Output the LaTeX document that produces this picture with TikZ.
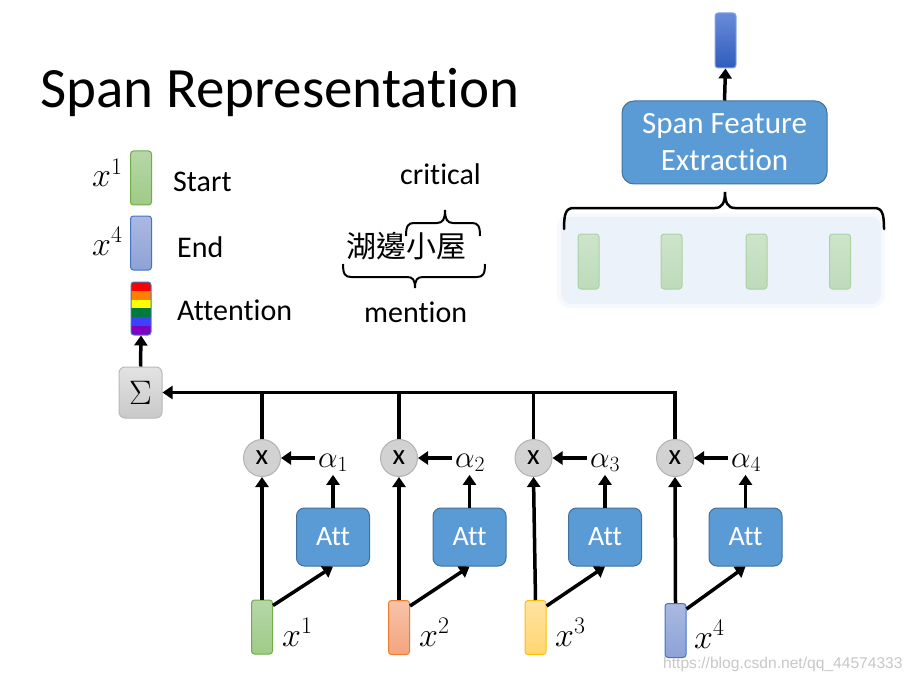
\RequirePackage{fix-cm}
\documentclass[tikz,border=0pt]{standalone}
\usepackage{fontspec}
\setmainfont{Carlito}[Ligatures=NoCommon]
\newfontfamily\cjkfont{Noto Sans CJK TC}
\newfontfamily\wmfont{Liberation Sans}
\usetikzlibrary{arrows.meta,calc}
\definecolor{attblue}{HTML}{5B9BD5}
\definecolor{attborder}{HTML}{41719C}
\definecolor{grnT}{HTML}{B6D7A8}
\definecolor{grnB}{HTML}{9FCB86}
\definecolor{grnD}{HTML}{70AD47}
\definecolor{orgT}{HTML}{F7C3AA}
\definecolor{orgB}{HTML}{F4A47C}
\definecolor{orgD}{HTML}{ED7D31}
\definecolor{yelT}{HTML}{FFE3A3}
\definecolor{yelB}{HTML}{FFD670}
\definecolor{yelD}{HTML}{FFC000}
\definecolor{bluT}{HTML}{AAB9E1}
\definecolor{bluB}{HTML}{8EA2D6}
\definecolor{bluD}{HTML}{4472C4}
\definecolor{outT}{HTML}{6A8BD8}
\definecolor{outB}{HTML}{2F5CBD}
\definecolor{spT}{HTML}{CDE4CB}
\definecolor{spB}{HTML}{BEDBBA}
\definecolor{spD}{HTML}{A9D3A0}
\definecolor{bgin}{HTML}{ECF2FA}
\definecolor{bgout}{HTML}{F6F9FD}
\definecolor{wmgray}{HTML}{C8C8C8}
\definecolor{rbR}{HTML}{FF0000}
\definecolor{rbO}{HTML}{FF7F00}
\definecolor{rbY}{HTML}{FFFF00}
\definecolor{rbG}{HTML}{00793D}
\definecolor{rbB}{HTML}{3F3FFF}
\definecolor{rbP}{HTML}{8000C0}
\begin{document}
\begin{tikzpicture}[x=1pt,y=-1pt,
  txt/.style={inner sep=0pt, font=\fontsize{30}{36}\selectfont},
  mathlab/.style={inner sep=0pt, font=\fontsize{34}{40}\selectfont},
  alab/.style={inner sep=3pt, font=\fontsize{31}{37}\selectfont},
  arr/.style={line width=3.5pt, -{Triangle[length=10pt,width=13pt]}},
  ln/.style={line width=3.5pt},
  attbox/.style={draw=attborder, line width=1pt, fill=attblue, rounded corners=8pt,
    minimum width=73pt, minimum height=58pt, inner sep=0pt, text=white,
    font=\fontsize{28}{34}\selectfont},
  mult/.style={circle, draw=gray!60, fill=gray!35, line width=1pt, minimum size=37pt,
    inner sep=0pt, font=\fontsize{29}{34}\selectfont},
  vec/.style={rounded corners=3pt, minimum width=21pt, minimum height=54pt,
    inner sep=0pt, line width=1pt},
  brace/.style={line width=2.5pt, line cap=round}
]
\useasboundingbox (0,0) rectangle (915,679);
\fill[white] (0,0) rectangle (915,679);

% title
\node[inner sep=0pt, anchor=base west, font=\fontsize{57}{64}\selectfont] (title) at (40,108) {Span Representation};

% legend
\node[vec, draw=grnD, top color=grnT, bottom color=grnB, minimum height=54pt] (lg1) at (141,178) {};
\node[vec, draw=bluD, top color=bluT, bottom color=bluB] (lg4) at (141,243) {};
\node[mathlab, anchor=base west] (lgx1) at (92,187) {$x^1$};
\node[mathlab, anchor=base west] (lgx4) at (92,255) {$x^4$};
\node[txt, anchor=base west] (start) at (173,192) {Start};
\node[txt, anchor=base west] (end) at (177,257) {End};
\node[txt, anchor=base west] (attn) at (177,320) {Attention};

% rainbow bar
\begin{scope}
\clip[rounded corners=3pt] (131,282) rectangle (151,335);
\fill[rbR] (131,282) rectangle (151,291);
\fill[rbO] (131,291) rectangle (151,300);
\fill[rbY] (131,300) rectangle (151,308);
\fill[rbG] (131,308) rectangle (151,317);
\fill[rbB] (131,317) rectangle (151,326);
\fill[rbP] (131,326) rectangle (151,335);
\end{scope}
\node[draw=bluD, line width=1pt, rounded corners=3pt, minimum width=20pt, minimum height=53pt, inner sep=0pt] (attbar) at (141,308.5) {};

% sigma
\node[draw=gray!55, line width=1pt, top color=gray!22, bottom color=gray!42, rounded corners=6pt,
  minimum width=43pt, minimum height=51pt, inner sep=0pt, font=\fontsize{34}{40}\selectfont] (sigma) at (140.5,392.5) {$\Sigma$};
\draw[arr] (sigma.north) -- (attbar.south);

% critical / mention
\node[txt, anchor=base west] (crit) at (400,185) {critical};
\node[inner sep=0pt, font=\cjkfont\fontsize{30}{36}\selectfont] (zh) at (406,246) {湖邊小屋};
\node[txt, anchor=base west] (mention) at (364,322) {mention};
\draw[line width=2pt] (406,236) .. controls (406,226) and (408,223) .. (414,223) -- (437,223)
  .. controls (443,223) and (445,219) .. (445,210) .. controls (445,219) and (447,223) .. (453,223)
  -- (472,223) .. controls (478,223) and (480,226) .. (480,236);
\draw[line width=2pt] (343,264) .. controls (343,274) and (345,277) .. (351,277) -- (407,277)
  .. controls (413,277) and (415,280) .. (415,288) .. controls (415,280) and (417,277) .. (423,277)
  -- (477,277) .. controls (483,277) and (485,274) .. (485,264);

% top right
\fill[bgout, rounded corners=14pt] (557,213) rectangle (885,308);
\fill[bgin, rounded corners=10pt] (561,217) rectangle (881,304);
\node[vec, draw=spD, top color=spT, bottom color=spB, minimum height=55pt] (s1) at (588.5,261.5) {};
\node[vec, draw=spD, top color=spT, bottom color=spB, minimum height=55pt] (s2) at (671.5,261.5) {};
\node[vec, draw=spD, top color=spT, bottom color=spB, minimum height=55pt] (s3) at (756.5,261.5) {};
\node[vec, draw=spD, top color=spT, bottom color=spB, minimum height=55pt] (s4) at (840,261.5) {};
\draw[brace] (564,229) .. controls (564,213) and (566,208) .. (574,208) -- (715,208)
  .. controls (722,208) and (725,203) .. (725,192) .. controls (725,203) and (728,208) .. (735,208)
  -- (874,208) .. controls (882,208) and (884,213) .. (884,229);
\node[attbox, minimum width=205pt, minimum height=83pt, rounded corners=12pt, align=center,
  font=\fontsize{31}{37}\selectfont] (sfe) at (724.5,142.5) {Span Feature\\Extraction};
\node[vec, draw=outT!80!white, top color=outT, bottom color=outB, minimum height=55pt] (outvec) at (725.5,40.5) {};
\draw[arr] (sfe.north) -- (outvec.south);

% columns
\node[vec, draw=grnD, top color=grnT, bottom color=grnB] (r1) at (262,627) {};
\node[vec, draw=orgD, top color=orgT, bottom color=orgB] (r2) at (399,627.5) {};
\node[vec, draw=yelD, top color=yelT, bottom color=yelB] (r3) at (535.5,627.5) {};
\node[vec, draw=bluD, top color=bluT, bottom color=bluB] (r4) at (675.5,630.5) {};

\node[mathlab, anchor=base west] (x1) at (282,646) {$x^1$};
\node[mathlab, anchor=base west] (x2) at (419,646) {$x^2$};
\node[mathlab, anchor=base west] (x3) at (555,646) {$x^3$};
\node[mathlab, anchor=base west] (x4) at (694,648) {$x^4$};

\node[mult] (c1) at (262,458) {x};
\node[mult] (c2) at (399,458) {x};
\node[mult] (c3) at (533.5,458) {x};
\node[mult] (c4) at (675,458) {x};

\node[attbox] (a1) at (333,537) {Att};
\node[attbox] (a2) at (469.5,537) {Att};
\node[attbox] (a3) at (605,537) {Att};
\node[attbox] (a4) at (745.5,537) {Att};

\node[alab, anchor=base west] (al1) at (315,467) {$\alpha_1$};
\node[alab, anchor=base west] (al2) at (452,467) {$\alpha_2$};
\node[alab, anchor=base west] (al3) at (587,467) {$\alpha_3$};
\node[alab, anchor=base west] (al4) at (728,467) {$\alpha_4$};

\foreach \i in {1,2,3,4}{
  \draw[arr] (r\i.north) -- (c\i.south);
  \draw[arr] ([yshift=-6pt]r\i.north east) -- (a\i.south);
  \draw[arr] (a\i.north) -- (a\i.north |- al\i.south);
  \draw[arr] (c\i.east -| al\i.west) -- (c\i.east);
}
\draw[ln] (c1.north) -- (c1.north |- sigma.east);
\draw[ln] (c2.north) -- (c2.north |- sigma.east);
\draw[ln] (c3.north) -- (c3.north |- sigma.east);
\draw[arr] (c4.north) |- (sigma.east);

% watermark
\node[inner sep=0pt, anchor=base west, text=wmgray, font=\wmfont\fontsize{15.6}{19}\selectfont] (wm) at (663,668) {https://blog.csdn.net/qq\_44574333};
\end{tikzpicture}
\end{document}
